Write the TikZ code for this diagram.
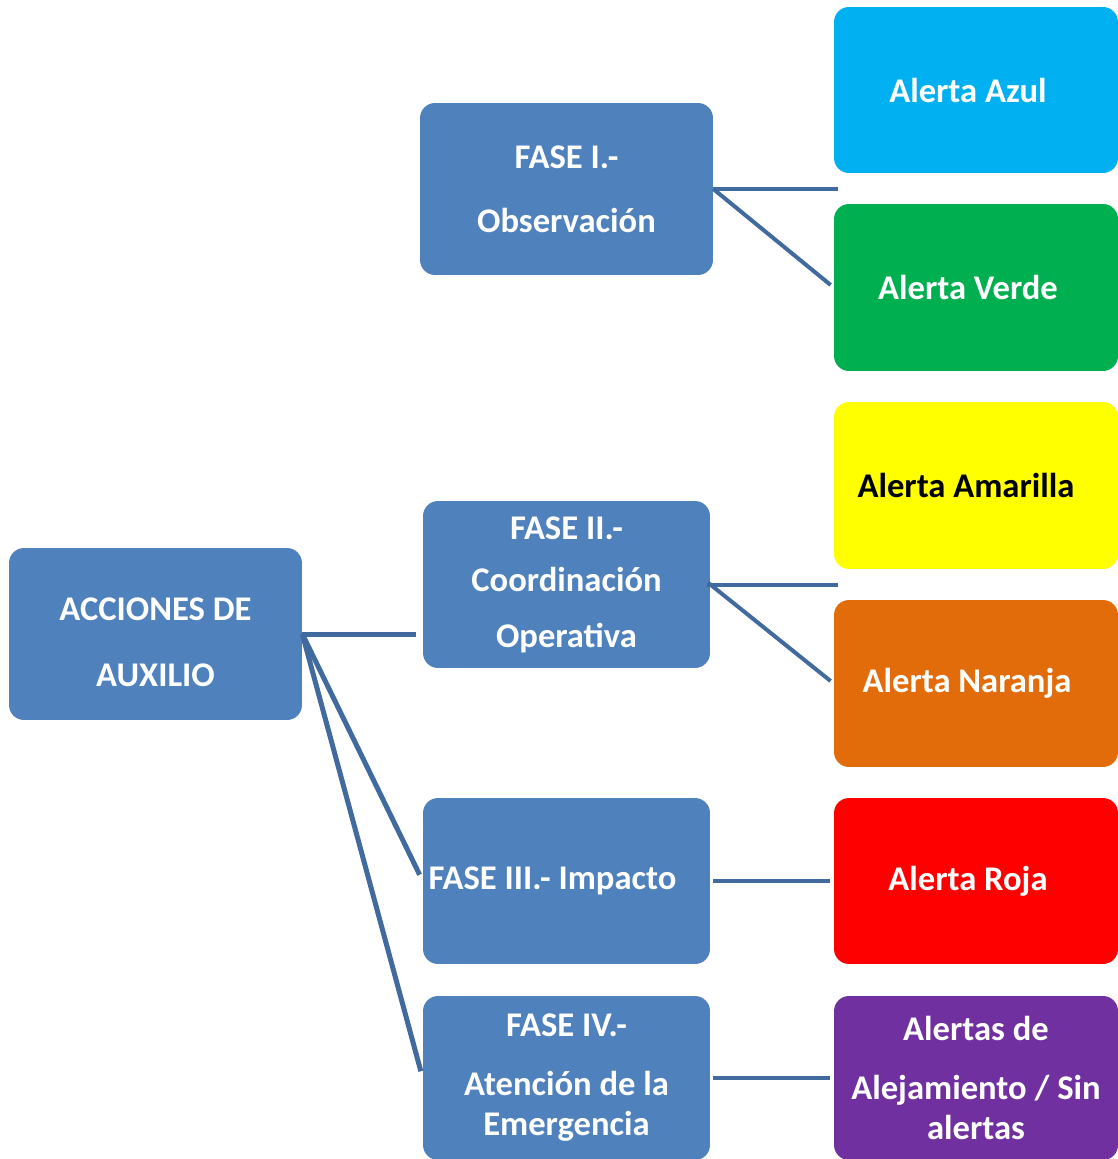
\documentclass[tikz,border=0pt]{standalone}
\usepackage{fontspec}
\setmainfont{Carlito}
\definecolor{boxblue}{HTML}{4F81BD}
\definecolor{linkblue}{HTML}{416A9E}
\definecolor{azul}{HTML}{00B0F0}
\definecolor{verde}{HTML}{00B050}
\definecolor{amarilla}{HTML}{FFFF00}
\definecolor{naranja}{HTML}{E36C0A}
\definecolor{roja}{HTML}{FF0000}
\definecolor{morado}{HTML}{7030A0}

\begin{document}
\begin{tikzpicture}[x=0.02cm,y=-0.02cm,
    phase/.style={fill=boxblue, rounded corners=0.3cm, text=white, align=center,
        inner sep=0pt, font=\fontsize{19.7}{22.8}\selectfont\bfseries},
    alert/.style={phase, minimum width=5.68cm},
    link/.style={draw=linkblue, line width=0.08cm}]
    \useasboundingbox (0,0) rectangle (1117,1159);

    % root
    \node[phase, minimum width=5.86cm, minimum height=3.44cm] (acc) at (155.5,634)
        {\rule{0pt}{0.8cm}ACCIONES DE\\[0.52cm]AUXILIO};

    % phases
    \node[phase, minimum width=5.86cm, minimum height=3.44cm] (f1) at (566.5,189)
        {FASE I.-\\[0.48cm]Observación};
    \node[phase, minimum width=5.74cm, minimum height=3.34cm] (f2) at (566.5,584.5)
        {FASE II.-\\[0.24cm]Coordinación\\[0.32cm]Operativa};
    \node[phase, minimum width=5.74cm, minimum height=3.32cm] (f3) at (566.5,881)
        {\hspace*{-0.56cm}FASE III.- Impacto};
    \node[phase, minimum width=5.74cm, minimum height=3.28cm] (f4) at (566.5,1078)
        {FASE IV.-\\[0.38cm]Atención de la\\Emergencia};

    % alerts
    \node[alert, fill=azul, minimum height=3.32cm] (azul) at (976,90)
        {\hspace*{-0.32cm}Alerta Azul};
    \node[alert, fill=verde, minimum height=3.34cm] (verde) at (976,287.5)
        {\hspace*{-0.32cm}Alerta Verde};
    \node[alert, fill=amarilla, text=black, minimum height=3.34cm] (amarilla) at (976,485.5)
        {\hspace*{-0.4cm}Alerta Amarilla};
    \node[alert, fill=naranja, minimum height=3.34cm] (naranja) at (976,683.5)
        {\hspace*{-0.36cm}Alerta Naranja};
    \node[alert, fill=roja, minimum height=3.32cm] (roja) at (976,881)
        {\hspace*{-0.32cm}Alerta Roja};
    \node[alert, fill=morado, minimum height=3.28cm] (alej) at (976,1078)
        {Alertas de\\[0.38cm]Alejamiento / Sin\\alertas};

    % connectors
    \draw[link, line width=0.1cm, shorten >=0.14cm] (acc.east) -- (acc.east -| f2.west);
    \draw[link, line width=0.1cm, shorten >=0.14cm] (acc.east) -- (f3.west);
    \draw[link, line width=0.1cm, shorten >=0.14cm] (acc.east) -- (f4.west);

    \draw[link, shorten >=-0.08cm] (f1.east) -- (f1.east -| azul.west);
    \draw[link, shorten >=0.08cm] (f1.east) -- (verde.west);
    \draw[link, shorten <=-0.06cm, shorten >=-0.08cm] (f2.east) -- (f2.east -| amarilla.west);
    \draw[link, shorten <=-0.06cm, shorten >=0.08cm] (f2.east) -- (naranja.west);
    \draw[link, shorten <=0.06cm, shorten >=0.08cm] (f3.east) -- (roja.west);
    \draw[link, shorten <=0.06cm, shorten >=0.08cm] (f4.east) -- (alej.west);
\end{tikzpicture}
\end{document}
